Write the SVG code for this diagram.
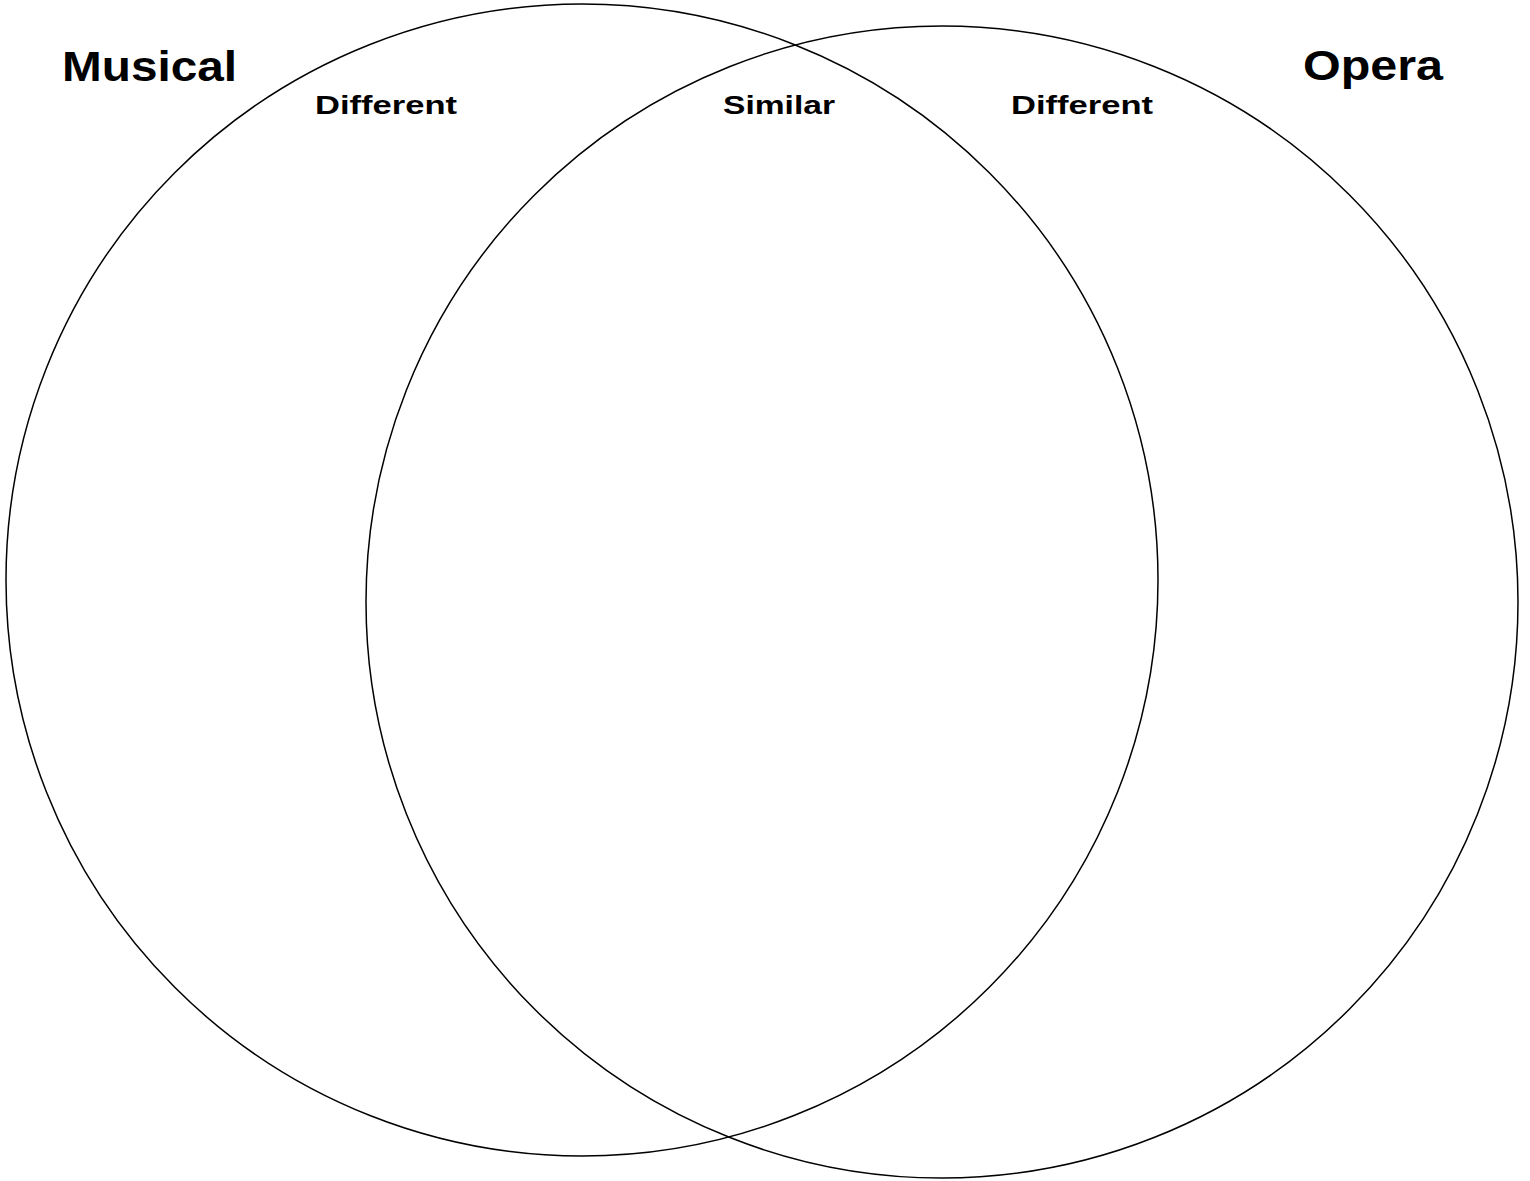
<svg xmlns="http://www.w3.org/2000/svg" width="1530" height="1181" viewBox="0 0 1530 1181">
<style>
.c{fill:none;stroke:#000;stroke-width:1.5}
.t{font-family:"Liberation Sans",Arial,sans-serif;font-weight:bold;fill:#000}
.big{font-size:43px}
.small{font-size:26px}
</style>
<rect width="1530" height="1181" fill="#fff"/>
<g id="musical">
<circle class="c" cx="582" cy="580" r="576"/>
<text class="t big" x="62" y="81" textLength="175" lengthAdjust="spacingAndGlyphs">Musical</text>
<text class="t small" x="315" y="114" textLength="142" lengthAdjust="spacingAndGlyphs">Different</text>
</g>
<g id="opera">
<circle class="c" cx="942" cy="602" r="576"/>
<text class="t big" x="1303" y="80" textLength="140" lengthAdjust="spacingAndGlyphs">Opera</text>
<text class="t small" x="1011" y="114" textLength="142" lengthAdjust="spacingAndGlyphs">Different</text>
</g>
<g id="similar">
<text class="t small" x="723" y="114" textLength="112" lengthAdjust="spacingAndGlyphs">Similar</text>
</g>
<g id="connectors"></g>
</svg>
